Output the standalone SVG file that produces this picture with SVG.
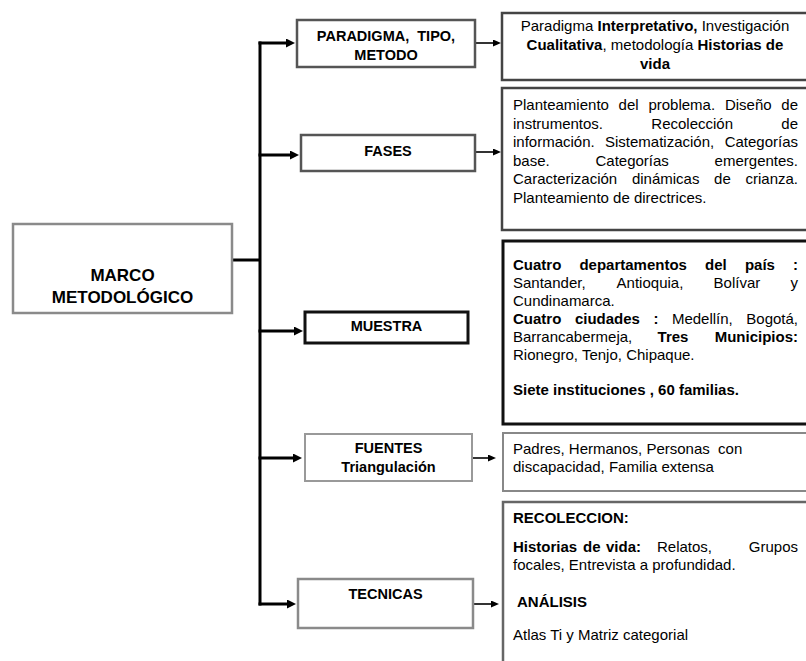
<svg xmlns="http://www.w3.org/2000/svg" width="806" height="661" viewBox="0 0 806 661">
<defs>
<style>
text{font-family:"Liberation Sans",Arial,sans-serif;fill:#000;}
.lbl{font-size:14.5px;font-weight:bold;text-anchor:middle;}
.main{font-size:17px;font-weight:bold;text-anchor:middle;}
.t{font-size:15px;}
.b{font-weight:bold;}
.e{text-anchor:end;}
.box{fill:#fff;}
.thick{stroke:#000;stroke-width:3;fill:none;}
.thin{stroke:#000;stroke-width:1.6;fill:none;}
</style>
<marker id="ah" markerUnits="userSpaceOnUse" markerWidth="10" markerHeight="10" refX="3" refY="4.5" orient="auto"><path d="M0,0 L9,4.5 L0,9 z" fill="#000"/></marker>
<marker id="ahs" markerUnits="userSpaceOnUse" markerWidth="9" markerHeight="8" refX="2" refY="3.5" orient="auto"><path d="M0,0 L8,3.5 L0,7 z" fill="#000"/></marker>
</defs>
<rect width="806" height="661" fill="#fff"/>

<g id="connectors">
<path class="thick" d="M232,260 H260"/>
<path class="thick" d="M260,41.5 V605.5"/>
<line class="thick" x1="258.5" y1="43" x2="289" y2="43" marker-end="url(#ah)"/>
<line class="thick" x1="258.5" y1="155" x2="293" y2="155" marker-end="url(#ah)"/>
<line class="thick" x1="258.5" y1="331" x2="297" y2="331" marker-end="url(#ah)"/>
<line class="thick" x1="258.5" y1="458" x2="296" y2="458" marker-end="url(#ah)"/>
<line class="thick" x1="258.5" y1="604" x2="290" y2="604" marker-end="url(#ah)"/>
<line class="thin" x1="475" y1="43" x2="495" y2="43" marker-end="url(#ahs)"/>
<line class="thin" x1="475" y1="152" x2="495" y2="152" marker-end="url(#ahs)"/>
<line class="thin" x1="472" y1="458" x2="490" y2="458" marker-end="url(#ahs)"/>
<line class="thin" x1="473" y1="604" x2="493" y2="604" marker-end="url(#ahs)"/>
</g>

<g id="marco">
<rect class="box" x="13" y="224" width="219" height="89" stroke="#8a8a8a" stroke-width="2.5"/>
<text class="main" x="122.5" y="281">MARCO</text>
<text class="main" x="122.5" y="303">METODOLÓGICO</text>
</g>

<g id="paradigma">
<rect class="box" x="297" y="20" width="178" height="47" stroke="#555" stroke-width="2.5"/>
<text class="lbl" x="386" y="40.5" xml:space="preserve">PARADIGMA,  TIPO,</text>
<text class="lbl" x="386" y="60">METODO</text>
</g>

<g id="fases">
<rect class="box" x="301" y="135" width="174" height="36" stroke="#555" stroke-width="2.5"/>
<text class="lbl" x="388" y="156">FASES</text>
</g>

<g id="muestra">
<rect class="box" x="305" y="312" width="163" height="31" stroke="#111" stroke-width="3"/>
<text class="lbl" x="386.5" y="331">MUESTRA</text>
</g>

<g id="fuentes">
<rect class="box" x="305" y="434" width="167" height="47" stroke="#999" stroke-width="2"/>
<text class="lbl" x="388.5" y="453">FUENTES</text>
<text class="lbl" x="388.5" y="472">Triangulación</text>
</g>

<g id="tecnicas">
<rect class="box" x="298" y="579" width="175" height="49" stroke="#8a8a8a" stroke-width="2.5"/>
<text class="lbl" x="385.5" y="599">TECNICAS</text>
</g>

<g id="paradigma-detalle">
<rect class="box" x="502" y="13" width="320" height="67" stroke="#444" stroke-width="2.5"/>
<text class="t" x="655" y="30.5" text-anchor="middle">Paradigma <tspan class="b">Interpretativo,</tspan> Investigación</text>
<text class="t" x="655" y="49.5" text-anchor="middle"><tspan class="b">Cualitativa</tspan>, metodología <tspan class="b">Historias de</tspan></text>
<text class="t b" x="655" y="68.5" text-anchor="middle">vida</text>
</g>

<g id="fases-detalle">
<rect class="box" x="502" y="88" width="320" height="142" stroke="#444" stroke-width="2.5"/>
<text class="t" y="110"><tspan x="513">Planteamiento</tspan><tspan x="618.6">del</tspan><tspan x="648.4">problema.</tspan><tspan x="724.9">Diseño</tspan></text>
<text class="t e" x="798" y="110">de</text>
<text class="t" y="128.5"><tspan x="513">instrumentos.</tspan><tspan x="651.3">Recolección</tspan></text>
<text class="t e" x="798" y="128.5">de</text>
<text class="t" y="147"><tspan x="513">información.</tspan><tspan x="605">Sistematización,</tspan></text>
<text class="t e" x="798" y="147">Categorías</text>
<text class="t" y="165.5"><tspan x="513">base.</tspan><tspan x="595.5">Categorías</tspan></text>
<text class="t e" x="798" y="165.5">emergentes.</text>
<text class="t" y="184"><tspan x="513">Caracterización</tspan><tspan x="631.9">dinámicas</tspan><tspan x="714.1">de</tspan></text>
<text class="t e" x="798" y="184">crianza.</text>
<text class="t" x="513" y="202.5">Planteamiento de directrices.</text>
</g>

<g id="muestra-detalle">
<rect class="box" x="503" y="241" width="320" height="183" stroke="#111" stroke-width="3"/>
<text class="t b" y="270"><tspan x="513">Cuatro</tspan><tspan x="579.4">departamentos</tspan><tspan x="705.1">del</tspan><tspan x="744.9">país</tspan></text>
<text class="t b e" x="798" y="270">:</text>
<text class="t" y="288"><tspan x="513">Santander,</tspan><tspan x="616.6">Antioquia,</tspan><tspan x="713.6">Bolívar</tspan></text>
<text class="t e" x="798" y="288">y</text>
<text class="t" x="513" y="306">Cundinamarca.</text>
<text class="t" y="324"><tspan class="b" x="513">Cuatro</tspan><tspan class="b" x="574.9">ciudades</tspan><tspan class="b" x="653.4">:</tspan><tspan x="671.9">Medellín,</tspan></text>
<text class="t e" x="798" y="324">Bogotá,</text>
<text class="t" y="342"><tspan x="513">Barrancabermeja,</tspan><tspan class="b" x="657.6">Tres</tspan></text>
<text class="t b e" x="798" y="342">Municipios:</text>
<text class="t" x="513" y="360">Rionegro, Tenjo, Chipaque.</text>
<text class="t b" x="513" y="395">Siete instituciones , 60 familias.</text>
</g>

<g id="fuentes-detalle">
<rect class="box" x="503" y="433" width="320" height="58" stroke="#888" stroke-width="2"/>
<text class="t" x="513" y="454" xml:space="preserve">Padres, Hermanos, Personas  con</text>
<text class="t" x="513" y="472">discapacidad, Familia extensa</text>
</g>

<g id="tecnicas-detalle">
<rect class="box" x="503" y="502" width="320" height="170" stroke="#666" stroke-width="2.5"/>
<text class="t b" x="513" y="523">RECOLECCION:</text>
<text class="t" y="552"><tspan class="b" x="513">Historias</tspan><tspan class="b" x="583">de</tspan><tspan class="b" x="606">vida:</tspan><tspan x="657">Relatos,</tspan></text>
<text class="t e" x="798" y="552">Grupos</text>
<text class="t" x="513" y="570">focales, Entrevista a profundidad.</text>
<text class="t b" x="517" y="607">ANÁLISIS</text>
<text class="t" x="513" y="640">Atlas Ti y Matriz categorial</text>
</g>
</svg>
